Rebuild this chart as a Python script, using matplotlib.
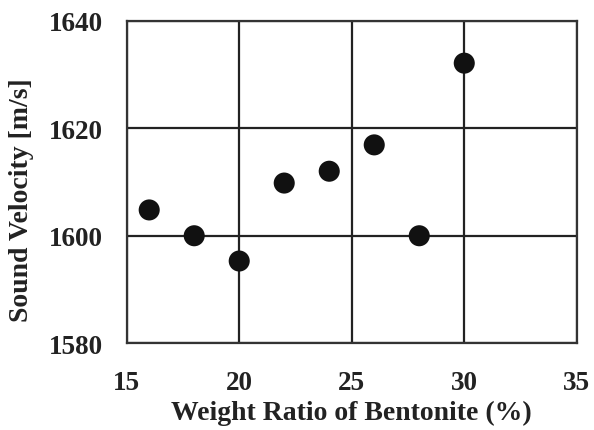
import matplotlib
matplotlib.use("Agg")
import matplotlib.pyplot as plt

weight_ratio = [16, 18, 20, 22, 24, 26, 28, 30]
sound_velocity = [1604.8, 1600.0, 1595.3, 1609.8, 1612.0, 1616.9, 1600.0, 1632.1]

x_ticks = [15, 20, 25, 30, 35]
y_ticks = [1580, 1600, 1620, 1640]

plt.rcParams['font.family'] = ['Liberation Serif', 'DejaVu Serif']
fig = plt.figure(figsize=(5.94, 4.31), dpi=100)
ax = fig.add_axes([0.2133, 0.2012, 0.971 - 0.2133, 0.9497 - 0.2012])

ax.scatter(weight_ratio, sound_velocity, s=230, color='#111111', zorder=3, edgecolors='none')
ax.set_xlim(15, 35)
ax.set_ylim(1580, 1640)
ax.set_xticks(x_ticks)
ax.set_yticks(y_ticks)
ax.grid(True, color='#222222', linewidth=1.6)
ax.set_axisbelow(True)
for sp in ax.spines.values():
    sp.set_color('#333333')
    sp.set_linewidth(1.6)
ax.tick_params(length=0, labelsize=19.5, colors='#222222')
ax.tick_params(axis='y', pad=17)
ax.tick_params(axis='x', pad=19)
for lab in ax.get_xticklabels() + ax.get_yticklabels():
    lab.set_fontweight('bold')
ax.set_xlabel('Weight Ratio of Bentonite (%)', fontsize=20, fontweight='bold', color='#222222', labelpad=4)
ax.set_ylabel('Sound Velocity [m/s]', fontsize=20, fontweight='bold', color='#222222')
ax.yaxis.set_label_coords(-0.206, 0.447)

fig.savefig('out.png', dpi=100)
